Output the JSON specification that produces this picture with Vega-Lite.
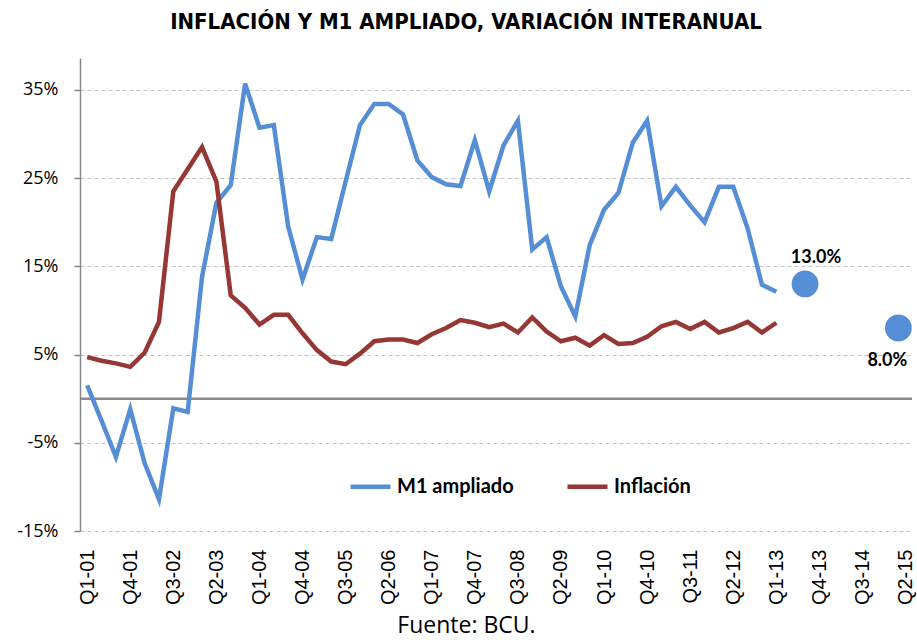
{
  "$schema": "https://vega.github.io/schema/vega-lite/v6.json",
  "width": 832,
  "height": 473,
  "autosize": {"type": "none"},
  "padding": {"left": 80, "top": 58, "right": 5, "bottom": 109},
  "background": "white",
  "title": {
    "text": "INFLACIÓN Y M1 AMPLIADO, VARIACIÓN INTERANUAL",
    "font": "Liberation Sans Narrow, DejaVu Sans Condensed, sans-serif",
    "fontSize": 22,
    "fontWeight": "bold",
    "color": "black",
    "anchor": "middle",
    "dx": -30,
    "offset": 24
  },
  "config": {
    "view": {"stroke": null},
    "axis": {"labelColor": "black"}
  },
  "datasets": {
    "lines": [
      {"idx": 0, "quarter": "Q1-01", "series": "M1 ampliado", "value": 1.5},
      {"idx": 1, "quarter": "Q2-01", "series": "M1 ampliado", "value": -2.5},
      {"idx": 2, "quarter": "Q3-01", "series": "M1 ampliado", "value": -6.6},
      {"idx": 3, "quarter": "Q4-01", "series": "M1 ampliado", "value": -1.2},
      {"idx": 4, "quarter": "Q1-02", "series": "M1 ampliado", "value": -7.3},
      {"idx": 5, "quarter": "Q2-02", "series": "M1 ampliado", "value": -11.4},
      {"idx": 6, "quarter": "Q3-02", "series": "M1 ampliado", "value": -1.1},
      {"idx": 7, "quarter": "Q4-02", "series": "M1 ampliado", "value": -1.5},
      {"idx": 8, "quarter": "Q1-03", "series": "M1 ampliado", "value": 13.8},
      {"idx": 9, "quarter": "Q2-03", "series": "M1 ampliado", "value": 22.2},
      {"idx": 10, "quarter": "Q3-03", "series": "M1 ampliado", "value": 24.2},
      {"idx": 11, "quarter": "Q4-03", "series": "M1 ampliado", "value": 35.7},
      {"idx": 12, "quarter": "Q1-04", "series": "M1 ampliado", "value": 30.7},
      {"idx": 13, "quarter": "Q2-04", "series": "M1 ampliado", "value": 31.0},
      {"idx": 14, "quarter": "Q3-04", "series": "M1 ampliado", "value": 19.5},
      {"idx": 15, "quarter": "Q4-04", "series": "M1 ampliado", "value": 13.5},
      {"idx": 16, "quarter": "Q1-05", "series": "M1 ampliado", "value": 18.3},
      {"idx": 17, "quarter": "Q2-05", "series": "M1 ampliado", "value": 18.1},
      {"idx": 18, "quarter": "Q3-05", "series": "M1 ampliado", "value": 24.6},
      {"idx": 19, "quarter": "Q4-05", "series": "M1 ampliado", "value": 31.0},
      {"idx": 20, "quarter": "Q1-06", "series": "M1 ampliado", "value": 33.4},
      {"idx": 21, "quarter": "Q2-06", "series": "M1 ampliado", "value": 33.4},
      {"idx": 22, "quarter": "Q3-06", "series": "M1 ampliado", "value": 32.2},
      {"idx": 23, "quarter": "Q4-06", "series": "M1 ampliado", "value": 27.0},
      {"idx": 24, "quarter": "Q1-07", "series": "M1 ampliado", "value": 25.1},
      {"idx": 25, "quarter": "Q2-07", "series": "M1 ampliado", "value": 24.3},
      {"idx": 26, "quarter": "Q3-07", "series": "M1 ampliado", "value": 24.1},
      {"idx": 27, "quarter": "Q4-07", "series": "M1 ampliado", "value": 29.3},
      {"idx": 28, "quarter": "Q1-08", "series": "M1 ampliado", "value": 23.5},
      {"idx": 29, "quarter": "Q2-08", "series": "M1 ampliado", "value": 28.7},
      {"idx": 30, "quarter": "Q3-08", "series": "M1 ampliado", "value": 31.5},
      {"idx": 31, "quarter": "Q4-08", "series": "M1 ampliado", "value": 16.9},
      {"idx": 32, "quarter": "Q1-09", "series": "M1 ampliado", "value": 18.3},
      {"idx": 33, "quarter": "Q2-09", "series": "M1 ampliado", "value": 12.7},
      {"idx": 34, "quarter": "Q3-09", "series": "M1 ampliado", "value": 9.3},
      {"idx": 35, "quarter": "Q4-09", "series": "M1 ampliado", "value": 17.4},
      {"idx": 36, "quarter": "Q1-10", "series": "M1 ampliado", "value": 21.4},
      {"idx": 37, "quarter": "Q2-10", "series": "M1 ampliado", "value": 23.3},
      {"idx": 38, "quarter": "Q3-10", "series": "M1 ampliado", "value": 29.0},
      {"idx": 39, "quarter": "Q4-10", "series": "M1 ampliado", "value": 31.5},
      {"idx": 40, "quarter": "Q1-11", "series": "M1 ampliado", "value": 21.8},
      {"idx": 41, "quarter": "Q2-11", "series": "M1 ampliado", "value": 24.0},
      {"idx": 42, "quarter": "Q3-11", "series": "M1 ampliado", "value": 21.9},
      {"idx": 43, "quarter": "Q4-11", "series": "M1 ampliado", "value": 20.0},
      {"idx": 44, "quarter": "Q1-12", "series": "M1 ampliado", "value": 24.0},
      {"idx": 45, "quarter": "Q2-12", "series": "M1 ampliado", "value": 24.0},
      {"idx": 46, "quarter": "Q3-12", "series": "M1 ampliado", "value": 19.3},
      {"idx": 47, "quarter": "Q4-12", "series": "M1 ampliado", "value": 12.9},
      {"idx": 48, "quarter": "Q1-13", "series": "M1 ampliado", "value": 12.1},
      {"idx": 0, "quarter": "Q1-01", "series": "Inflación", "value": 4.7},
      {"idx": 1, "quarter": "Q2-01", "series": "Inflación", "value": 4.3},
      {"idx": 2, "quarter": "Q3-01", "series": "Inflación", "value": 4.0},
      {"idx": 3, "quarter": "Q4-01", "series": "Inflación", "value": 3.6},
      {"idx": 4, "quarter": "Q1-02", "series": "Inflación", "value": 5.2},
      {"idx": 5, "quarter": "Q2-02", "series": "Inflación", "value": 8.7},
      {"idx": 6, "quarter": "Q3-02", "series": "Inflación", "value": 23.5},
      {"idx": 7, "quarter": "Q4-02", "series": "Inflación", "value": 26.0},
      {"idx": 8, "quarter": "Q1-03", "series": "Inflación", "value": 28.5},
      {"idx": 9, "quarter": "Q2-03", "series": "Inflación", "value": 24.6},
      {"idx": 10, "quarter": "Q3-03", "series": "Inflación", "value": 11.7},
      {"idx": 11, "quarter": "Q4-03", "series": "Inflación", "value": 10.3},
      {"idx": 12, "quarter": "Q1-04", "series": "Inflación", "value": 8.4},
      {"idx": 13, "quarter": "Q2-04", "series": "Inflación", "value": 9.5},
      {"idx": 14, "quarter": "Q3-04", "series": "Inflación", "value": 9.5},
      {"idx": 15, "quarter": "Q4-04", "series": "Inflación", "value": 7.4},
      {"idx": 16, "quarter": "Q1-05", "series": "Inflación", "value": 5.5},
      {"idx": 17, "quarter": "Q2-05", "series": "Inflación", "value": 4.2},
      {"idx": 18, "quarter": "Q3-05", "series": "Inflación", "value": 3.9},
      {"idx": 19, "quarter": "Q4-05", "series": "Inflación", "value": 5.1},
      {"idx": 20, "quarter": "Q1-06", "series": "Inflación", "value": 6.5},
      {"idx": 21, "quarter": "Q2-06", "series": "Inflación", "value": 6.7},
      {"idx": 22, "quarter": "Q3-06", "series": "Inflación", "value": 6.7},
      {"idx": 23, "quarter": "Q4-06", "series": "Inflación", "value": 6.3},
      {"idx": 24, "quarter": "Q1-07", "series": "Inflación", "value": 7.3},
      {"idx": 25, "quarter": "Q2-07", "series": "Inflación", "value": 8.0},
      {"idx": 26, "quarter": "Q3-07", "series": "Inflación", "value": 8.9},
      {"idx": 27, "quarter": "Q4-07", "series": "Inflación", "value": 8.6},
      {"idx": 28, "quarter": "Q1-08", "series": "Inflación", "value": 8.1},
      {"idx": 29, "quarter": "Q2-08", "series": "Inflación", "value": 8.5},
      {"idx": 30, "quarter": "Q3-08", "series": "Inflación", "value": 7.5},
      {"idx": 31, "quarter": "Q4-08", "series": "Inflación", "value": 9.2},
      {"idx": 32, "quarter": "Q1-09", "series": "Inflación", "value": 7.6},
      {"idx": 33, "quarter": "Q2-09", "series": "Inflación", "value": 6.5},
      {"idx": 34, "quarter": "Q3-09", "series": "Inflación", "value": 6.9},
      {"idx": 35, "quarter": "Q4-09", "series": "Inflación", "value": 6.0},
      {"idx": 36, "quarter": "Q1-10", "series": "Inflación", "value": 7.2},
      {"idx": 37, "quarter": "Q2-10", "series": "Inflación", "value": 6.2},
      {"idx": 38, "quarter": "Q3-10", "series": "Inflación", "value": 6.3},
      {"idx": 39, "quarter": "Q4-10", "series": "Inflación", "value": 7.0},
      {"idx": 40, "quarter": "Q1-11", "series": "Inflación", "value": 8.2},
      {"idx": 41, "quarter": "Q2-11", "series": "Inflación", "value": 8.7},
      {"idx": 42, "quarter": "Q3-11", "series": "Inflación", "value": 7.9},
      {"idx": 43, "quarter": "Q4-11", "series": "Inflación", "value": 8.7},
      {"idx": 44, "quarter": "Q1-12", "series": "Inflación", "value": 7.5},
      {"idx": 45, "quarter": "Q2-12", "series": "Inflación", "value": 8.0},
      {"idx": 46, "quarter": "Q3-12", "series": "Inflación", "value": 8.7},
      {"idx": 47, "quarter": "Q4-12", "series": "Inflación", "value": 7.5},
      {"idx": 48, "quarter": "Q1-13", "series": "Inflación", "value": 8.6}
    ],
    "dots": [
      {"idx": 50, "value": 13.0, "label": "13.0%", "pos": "above"},
      {"idx": 56.5, "value": 8.0, "label": "8.0%", "pos": "below"}
    ]
  },
  "layer": [
    {
      "data": {"values": [{"v": 0}]},
      "mark": {"type": "rule", "color": "#8c8c8c", "strokeWidth": 2.5},
      "encoding": {
        "y": {"field": "v", "type": "quantitative", "scale": {"domain": [-15, 38.6], "nice": false, "zero": false}}
      }
    },
    {
      "data": {"name": "lines"},
      "mark": {"type": "line", "strokeWidth": 4.5, "strokeJoin": "miter", "strokeCap": "butt"},
      "encoding": {
        "x": {
          "field": "idx", "type": "quantitative",
          "scale": {"domain": [-0.5, 57.45], "nice": false, "zero": false},
          "axis": {
            "values": [0, 3, 6, 9, 12, 15, 18, 21, 24, 27, 30, 33, 36, 39, 42, 45, 48, 51, 54, 57],
            "labelExpr": "'Q' + (datum.value % 4 + 1) + '-' + (floor(datum.value / 4) + 1 < 10 ? '0' : '') + (floor(datum.value / 4) + 1)",
            "labelAngle": -90,
            "labelAlign": "right",
            "labelBaseline": "middle",
            "labelFont": "Liberation Sans",
            "labelFontSize": 20,
            "labelPadding": 18,
            "labelFlush": false,
            "labelOverlap": false,
            "domain": false,
            "ticks": false,
            "grid": false,
            "title": "Fuente: BCU.",
            "titleFont": "Open Sans",
            "titleFontSize": 23,
            "titleFontWeight": "normal",
            "titleColor": "black",
            "titleX": 386,
            "titleY": 101,
            "titleAlign": "center",
            "titleBaseline": "alphabetic",
            "titleAnchor": null
          }
        },
        "y": {
          "field": "value", "type": "quantitative",
          "scale": {"domain": [-15, 38.6], "nice": false, "zero": false},
          "axis": {
            "values": [-15, -5, 5, 15, 25, 35],
            "labelExpr": "datum.value + '%'",
            "labelFont": "Open Sans",
            "labelFontSize": 18,
            "labelPadding": 16,
            "tickSize": 6,
            "tickColor": "#868686",
            "tickWidth": 1.5,
            "domainColor": "#868686",
            "domainWidth": 1.5,
            "grid": true,
            "gridColor": "#c3c3c3",
            "gridDash": [4, 3],
            "gridWidth": 1,
            "title": null
          }
        },
        "color": {
          "field": "series", "type": "nominal",
          "scale": {"domain": ["M1 ampliado", "Inflación"], "range": ["#558ed5", "#953735"]},
          "legend": {
            "title": null,
            "orient": "none",
            "legendX": 268,
            "legendY": 406,
            "direction": "horizontal",
            "symbolType": "stroke",
            "symbolSize": 1600,
            "symbolStrokeWidth": 4.5,
            "labelFont": "Lato",
            "labelFontSize": 20,
            "labelFontWeight": "bold",
            "labelColor": "black",
            "labelLimit": 300,
            "labelOffset": 4,
            "columnPadding": 44,
            "padding": 0
          }
        },
        "detail": {"field": "series"}
      }
    },
    {
      "data": {"name": "dots"},
      "mark": {"type": "circle", "size": 720, "opacity": 1, "color": "#558ed5"},
      "encoding": {
        "x": {"field": "idx", "type": "quantitative"},
        "y": {"field": "value", "type": "quantitative"}
      }
    },
    {
      "data": {"name": "dots"},
      "transform": [{"filter": "datum.pos == 'above'"}],
      "mark": {"type": "text", "font": "Lato", "fontSize": 18, "fontWeight": "bold", "color": "black", "dx": 11, "dy": -26},
      "encoding": {
        "x": {"field": "idx", "type": "quantitative"},
        "y": {"field": "value", "type": "quantitative"},
        "text": {"field": "label"}
      }
    },
    {
      "data": {"name": "dots"},
      "transform": [{"filter": "datum.pos == 'below'"}],
      "mark": {"type": "text", "font": "Lato", "fontSize": 18, "fontWeight": "bold", "color": "black", "dx": -11, "dy": 33},
      "encoding": {
        "x": {"field": "idx", "type": "quantitative"},
        "y": {"field": "value", "type": "quantitative"},
        "text": {"field": "label"}
      }
    }
  ]
}
